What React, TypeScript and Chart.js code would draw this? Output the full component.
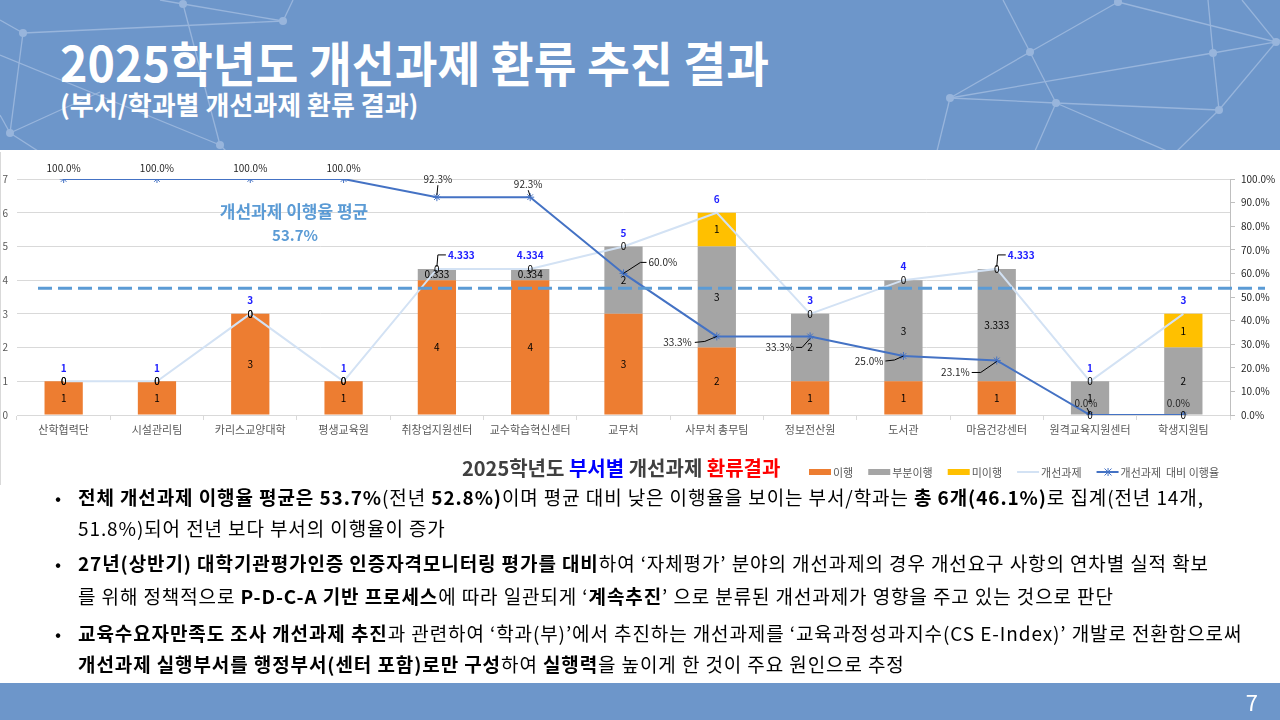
import React, { useEffect, useRef } from "react";
import { Chart, registerables } from "chart.js";

Chart.register(...registerables);

// ---- data ----
const departments = [
  "산학협력단",
  "시설관리팀",
  "카리스교양대학",
  "평생교육원",
  "취창업지원센터",
  "교수학습혁신센터",
  "교무처",
  "사무처 총무팀",
  "정보전산원",
  "도서관",
  "마음건강센터",
  "원격교육지원센터",
  "학생지원팀",
];
const completed = [1, 1, 3, 1, 4, 4, 3, 2, 1, 1, 1, 0, 0];
const partlyCompleted = [0, 0, 0, 0, 0.333, 0.334, 2, 3, 2, 3, 3.333, 1, 2];
const notCompleted = [0, 0, 0, 0, 0, 0, 0, 1, 0, 0, 0, 0, 1];
const totalTasks = [1, 1, 3, 1, 4.333, 4.334, 5, 6, 3, 4, 4.333, 1, 3];
const completionRate = [100, 100, 100, 100, 92.3, 92.3, 60, 33.3, 33.3, 25, 23.1, 0, 0];
const averageRate = 53.7;
const countAxisMax = 7;
const rateAxisMax = 100;

// ---- colours ----
const ORANGE = "#ED7D31";
const GRAY = "#A5A5A5";
const GOLD = "#FFC000";
const LIGHT_LINE = "#D3E2F4";
const RATE_BLUE = "#4472C4";
const AVG_BLUE = "#5B9BD5";
const AXIS_TEXT = "#595959";
const HEADER_BLUE = "#6D96CA";
const FONT = "'Noto Sans CJK KR', 'Noto Sans', sans-serif";

// label placement for the rate series: anchor offset from the point, alignment, leader polyline
type Placement = { dx: number; dy: number; align: CanvasTextAlign; leader?: number[][] };
const ratePlacement: Placement[] = [
  { dx: 0, dy: -11, align: "center" },
  { dx: 0, dy: -11, align: "center" },
  { dx: 0, dy: -11, align: "center" },
  { dx: 0, dy: -11, align: "center" },
  { dx: 1, dy: -18, align: "center", leader: [[0, -2], [1, -12]] },
  { dx: -2, dy: -13, align: "center", leader: [[0, -1], [-2, -7]] },
  { dx: 25, dy: -11, align: "left", leader: [[0, 0], [17, -11], [23, -11]] },
  { dx: -25, dy: 6, align: "right", leader: [[-22, 6], [-12, 5], [0, 0]] },
  { dx: -16, dy: 11, align: "right", leader: [[-14, 11], [-8, 11], [0, 2]] },
  { dx: -20, dy: 5, align: "right", leader: [[-18, 5], [-9, 4], [0, 0]] },
  { dx: -27, dy: 12, align: "right", leader: [[-25, 12], [-16, 12], [0, 1]] },
  { dx: -4, dy: -12, align: "center", leader: [[-3, -7], [0, -1]] },
  { dx: -5, dy: -12, align: "center" },
];
const totalPlacement: Placement[] = totalTasks.map((_, i) =>
  i === 4 || i === 10
    ? { dx: 11, dy: -14, align: "left", leader: [[0, -2], [1, -14], [9, -14]] }
    : { dx: 0, dy: -13.5, align: "center" }
);

const chartOverlay = {
  id: "chartOverlay",
  afterDatasetsDraw(chart: any) {
    const ctx: CanvasRenderingContext2D = chart.ctx;
    const y1 = chart.scales.y1;
    ctx.save();

    // average completion-rate dashed line
    const ay = y1.getPixelForValue(averageRate);
    ctx.strokeStyle = AVG_BLUE;
    ctx.lineWidth = 3;
    ctx.setLineDash([14, 6]);
    ctx.beginPath();
    ctx.moveTo(chart.chartArea.left + 21, ay);
    ctx.lineTo(chart.chartArea.right + 35, ay);
    ctx.stroke();
    ctx.setLineDash([]);

    // average caption
    ctx.fillStyle = AVG_BLUE;
    ctx.textAlign = "center";
    ctx.textBaseline = "middle";
    ctx.font = `bold 17px ${FONT}`;
    ctx.fillText("개선과제 이행율 평균", 294, 60);
    ctx.font = `bold 15px ${FONT}`;
    ctx.fillText(`${averageRate}%`, 295, 83);

    // stacked bar segment values
    ctx.fillStyle = "#000";
    ctx.font = `10px ${FONT}`;
    [0, 1, 2].forEach((di) => {
      const meta = chart.getDatasetMeta(di);
      const values = chart.data.datasets[di].data as number[];
      meta.data.forEach((bar: any, j: number) => {
        const p = bar.getProps(["x", "y", "base"], true);
        ctx.fillText(String(values[j]), p.x, (p.y + p.base) / 2);
      });
    });

    const drawLeader = (px: number, py: number, pts?: number[][]) => {
      if (!pts) return;
      ctx.strokeStyle = "#000";
      ctx.lineWidth = 1;
      ctx.beginPath();
      pts.forEach(([lx, ly], k) => (k ? ctx.lineTo(px + lx, py + ly) : ctx.moveTo(px + lx, py + ly)));
      ctx.stroke();
    };

    // total task counts (blue, bold)
    const totalMeta = chart.getDatasetMeta(3);
    ctx.font = `bold 10px ${FONT}`;
    totalMeta.data.forEach((pt: any, j: number) => {
      const pl = totalPlacement[j];
      drawLeader(pt.x, pt.y, pl.leader);
      ctx.fillStyle = "#1F1FFF";
      ctx.textAlign = pl.align;
      ctx.fillText(String(totalTasks[j]), pt.x + pl.dx, pt.y + pl.dy);
    });

    // completion-rate labels
    const rateMeta = chart.getDatasetMeta(4);
    ctx.font = `10px ${FONT}`;
    rateMeta.data.forEach((pt: any, j: number) => {
      const pl = ratePlacement[j];
      drawLeader(pt.x, pt.y, pl.leader);
      ctx.fillStyle = "#262626";
      ctx.textAlign = pl.align;
      ctx.fillText(`${completionRate[j].toFixed(1)}%`, pt.x + pl.dx, pt.y + pl.dy);
    });
    ctx.restore();
  },
  afterDraw(chart: any) {
    const ctx: CanvasRenderingContext2D = chart.ctx;
    ctx.save();
    // chart title with coloured words
    const parts: [string, string][] = [
      ["2025학년도 ", "#404040"],
      ["부서별", "#0000FF"],
      [" 개선과제 ", "#404040"],
      ["환류결과", "#FF0000"],
    ];
    ctx.font = `bold 20px ${FONT}`;
    ctx.textBaseline = "middle";
    ctx.textAlign = "left";
    let tx = 462;
    parts.forEach(([t, c]) => {
      ctx.fillStyle = c;
      ctx.fillText(t, tx, 316);
      tx += ctx.measureText(t).width;
    });

    // legend
    const ly = 320;
    let lx = 809;
    ctx.font = `11px ${FONT}`;
    chart.data.datasets.forEach((ds: any) => {
      if (ds.type === "bar") {
        ctx.fillStyle = ds.backgroundColor;
        ctx.fillRect(lx, ly - 3, 22, 6);
      } else {
        ctx.strokeStyle = ds.borderColor;
        ctx.lineWidth = 2;
        ctx.beginPath();
        ctx.moveTo(lx, ly);
        ctx.lineTo(lx + 22, ly);
        ctx.stroke();
        if (ds.pointRadius > 0) {
          ctx.lineWidth = 1;
          ctx.beginPath();
          ctx.moveTo(lx + 8, ly - 3.5);
          ctx.lineTo(lx + 15, ly + 3.5);
          ctx.moveTo(lx + 15, ly - 3.5);
          ctx.lineTo(lx + 8, ly + 3.5);
          ctx.moveTo(lx + 11.5, ly - 4);
          ctx.lineTo(lx + 11.5, ly + 4);
          ctx.stroke();
        }
      }
      lx += 24;
      ctx.fillStyle = AXIS_TEXT;
      ctx.fillText(ds.label, lx, ly + 1);
      lx += ctx.measureText(ds.label).width + 15;
    });
    ctx.restore();
  },
};

function DepartmentChart() {
  const ref = useRef<HTMLCanvasElement>(null);
  useEffect(() => {
    if (!ref.current) return;
    const chart = new Chart(ref.current, {
      data: {
        labels: departments,
        datasets: [
          {
            type: "bar",
            label: "이행",
            data: completed,
            backgroundColor: ORANGE,
            stack: "tasks",
            order: 3,
            categoryPercentage: 1,
            barPercentage: 0.41,
          },
          {
            type: "bar",
            label: "부분이행",
            data: partlyCompleted,
            backgroundColor: GRAY,
            stack: "tasks",
            order: 3,
            categoryPercentage: 1,
            barPercentage: 0.41,
          },
          {
            type: "bar",
            label: "미이행",
            data: notCompleted,
            backgroundColor: GOLD,
            stack: "tasks",
            order: 3,
            categoryPercentage: 1,
            barPercentage: 0.41,
          },
          {
            type: "line",
            label: "개선과제",
            data: totalTasks,
            borderColor: LIGHT_LINE,
            backgroundColor: LIGHT_LINE,
            borderWidth: 2,
            pointRadius: 0,
            stack: "total",
            order: 2,
            yAxisID: "y",
          },
          {
            type: "line",
            label: "개선과제  대비 이행율",
            data: completionRate,
            borderColor: RATE_BLUE,
            backgroundColor: RATE_BLUE,
            borderWidth: 2,
            pointStyle: "star",
            pointRadius: 4,
            pointBorderWidth: 1,
            pointBorderColor: RATE_BLUE,
            order: 1,
            yAxisID: "y1",
          },
        ] as any,
      },
      options: {
        animation: false,
        responsive: false,
        layout: { padding: { top: 27, left: 0, right: 0, bottom: 0 } },
        plugins: {
          legend: { display: false },
          title: { display: false },
          tooltip: { enabled: false },
        },
        scales: {
          x: {
            stacked: true,
            grid: { offset: true, drawOnChartArea: false, drawTicks: true, tickLength: 5, color: "#D9D9D9" },
            border: { display: true, color: "#D9D9D9" },
            ticks: { color: AXIS_TEXT, font: { family: FONT, size: 11 }, padding: 3, autoSkip: false, maxRotation: 0 },
            afterFit: (s: any) => {
              s.height = 70;
            },
          },
          y: {
            stacked: true,
            min: 0,
            max: countAxisMax,
            grid: { color: "#D9D9D9", drawTicks: false },
            border: { display: false },
            ticks: { stepSize: 1, color: AXIS_TEXT, font: { family: FONT, size: 10 }, padding: 9 },
            afterFit: (s: any) => {
              s.width = 17;
            },
          },
          y1: {
            position: "right",
            min: 0,
            max: rateAxisMax,
            grid: { drawOnChartArea: false, drawTicks: true, tickLength: 5, color: "#BFBFBF" },
            border: { display: true, color: "#BFBFBF" },
            ticks: {
              stepSize: 10,
              color: "#262626",
              font: { family: FONT, size: 10 },
              padding: 6,
              callback: (v: any) => `${Number(v).toFixed(1)}%`,
            },
            afterFit: (s: any) => {
              s.width = 50;
            },
          },
        },
      },
      plugins: [chartOverlay],
    });
    return () => chart.destroy();
  }, []);
  return <canvas ref={ref} width={1280} height={333} style={{ display: "block", width: 1280, height: 333 }} />;
}

// decorative network lines in the header band
const netLines: number[][] = [
  [1003, 0, 1030, 52], [1030, 52, 1118, 2], [1118, 2, 1276, 42], [1030, 52, 950, 98],
  [1030, 52, 1056, 103], [950, 98, 1213, 53], [1213, 53, 1276, 42], [1208, 0, 1213, 53],
  [1213, 53, 1219, 110], [1276, 42, 1219, 110], [1242, 0, 1276, 42], [950, 98, 1056, 103],
  [1056, 103, 1219, 110], [950, 98, 937, 151], [1056, 103, 1035, 151], [1056, 103, 1167, 151],
  [1219, 110, 1177, 151], [1276, 42, 1280, 40],
  [160, 0, 183, 4], [183, 4, 283, 21], [23, 33, 283, 21], [283, 21, 293, 0], [183, 4, 220, 145],
  [23, 33, 10, 133], [0, 20, 23, 33], [0, 55, 220, 145], [10, 133, 100, 92], [10, 133, 38, 151],
  [220, 145, 226, 151], [0, 115, 10, 133],
];
const netDots: number[][] = [
  [1118, 2], [1030, 52], [950, 98], [1056, 103], [1213, 53], [1276, 42], [1219, 110],
  [183, 4], [23, 33], [283, 21], [10, 133], [220, 145],
];

function Header() {
  return (
    <div style={{ position: "absolute", left: 0, top: 0, width: 1280, height: 150, background: HEADER_BLUE, overflow: "hidden" }}>
      <svg width={1280} height={150} style={{ position: "absolute", left: 0, top: 0 }}>
        {netLines.map(([x1, y1, x2, y2], i) => (
          <line key={i} x1={x1} y1={y1} x2={x2} y2={y2} stroke="#98B5DC" strokeWidth={1.3} />
        ))}
        {netDots.map(([cx, cy], i) => (
          <circle key={i} cx={cx} cy={cy} r={4} fill="#98B5DC" />
        ))}
      </svg>
      <div
        style={{
          position: "absolute",
          left: 60,
          top: 34,
          color: "#fff",
          fontFamily: FONT,
          fontWeight: 700,
          fontSize: 48,
          lineHeight: "54px",
          whiteSpace: "nowrap",
          transform: "scaleX(0.97)",
          transformOrigin: "left center",
        }}
      >
        2025학년도 개선과제 환류 추진 결과
      </div>
      <div
        style={{
          position: "absolute",
          left: 60,
          top: 89,
          color: "#fff",
          fontFamily: FONT,
          fontWeight: 700,
          fontSize: 26,
          lineHeight: "30px",
          whiteSpace: "nowrap",
        }}
      >
        (부서/학과별 개선과제 환류 결과)
      </div>
    </div>
  );
}

const B = ({ children }: { children: React.ReactNode }) => <b style={{ fontWeight: 700 }}>{children}</b>;

function Line({ y, bullet, children }: { y: number; bullet?: boolean; children: React.ReactNode }) {
  return (
    <div style={{ position: "absolute", top: y - 15, left: 0, height: 30, width: 1280 }}>
      {bullet && (
        <span style={{ position: "absolute", left: 55, lineHeight: "30px", fontSize: 18, fontFamily: FONT }}>•</span>
      )}
      <span
        style={{
          position: "absolute",
          left: 78,
          lineHeight: "30px",
          fontSize: 19,
          letterSpacing: "0.9px",
          fontFamily: FONT,
          color: "#000",
          whiteSpace: "nowrap",
        }}
      >
        {children}
      </span>
    </div>
  );
}

export default function App() {
  return (
    <div style={{ position: "fixed", left: 0, top: 0, width: 1280, height: 720, overflow: "hidden", background: "#fff" }}>
      <Header />
      <div style={{ position: "absolute", left: 0, top: 152, width: 1280, height: 333, borderLeft: "1px solid #D9D9D9", boxSizing: "border-box" }}>
        <div style={{ position: "absolute", left: -1, top: 0 }}>
          <DepartmentChart />
        </div>
      </div>
      <Line y={497} bullet>
        <B>전체 개선과제 이행율 평균은 53.7%</B>(전년 <B>52.8%)</B>이며 평균 대비 낮은 이행율을 보이는 부서/학과는 <B>총 6개(46.1%)</B>로 집계(전년 14개,
      </Line>
      <Line y={528}>51.8%)되어 전년 보다 부서의 이행율이 증가</Line>
      <Line y={563} bullet>
        <B>27년(상반기) 대학기관평가인증 인증자격모니터링 평가를 대비</B>하여 ‘자체평가’ 분야의 개선과제의 경우 개선요구 사항의 연차별 실적 확보
      </Line>
      <Line y={596}>
        를 위해 정책적으로 <B>P-D-C-A 기반 프로세스</B>에 따라 일관되게 ‘<B>계속추진</B>’ 으로 분류된 개선과제가 영향을 주고 있는 것으로 판단
      </Line>
      <Line y={633} bullet>
        <B>교육수요자만족도 조사 개선과제 추진</B>과 관련하여 ‘학과(부)’에서 추진하는 개선과제를 ‘교육과정성과지수(CS E-Index)’ 개발로 전환함으로써
      </Line>
      <Line y={664}>
        <B>개선과제 실행부서를 행정부서(센터 포함)로만 구성</B>하여 <B>실행력</B>을 높이게 한 것이 주요 원인으로 추정
      </Line>
      <div style={{ position: "absolute", left: 0, top: 683, width: 1280, height: 37, background: HEADER_BLUE }}>
        <span
          style={{
            position: "absolute",
            right: 22,
            top: 5,
            color: "#fff",
            fontFamily: FONT,
            fontSize: 22,
            lineHeight: "26px",
          }}
        >
          7
        </span>
      </div>
    </div>
  );
}
